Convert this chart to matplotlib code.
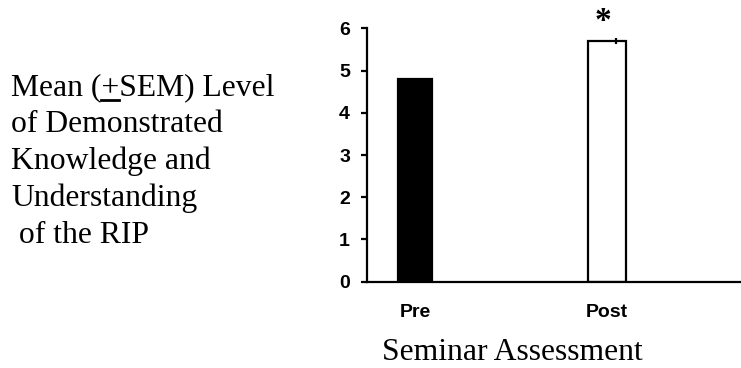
import matplotlib
matplotlib.use("Agg")
import matplotlib.pyplot as plt
from matplotlib.lines import Line2D

# Data
categories = ["Pre", "Post"]
means = [4.8, 5.7]
sems = [0.0, 0.08]
bar_colors = ["black", "white"]
yticks = [0, 1, 2, 3, 4, 5, 6]
ylabel_lines = ["Mean (+SEM) Level", "of Demonstrated", "Knowledge and",
                "Understanding", " of the RIP"]
xlabel = "Seminar Assessment"
signif_mark = "*"

W, H = 741, 368
fig = plt.figure(figsize=(W / 100, H / 100), dpi=100)
ax_left, ax_bottom, ax_top = 366.7, 281.7, 28.3
ax = fig.add_axes([ax_left / W, 1 - ax_bottom / H, 1 - ax_left / W,
                   (ax_bottom - ax_top) / H])

x = list(range(len(categories)))
ax.bar(x, means, width=[0.18, 0.2], color=bar_colors, edgecolor="black",
       linewidth=1.6, zorder=2)
# SEM bars sit slightly right of the bar centre
ax.errorbar([xi + 0.047 for xi in x], means, yerr=sems, fmt="none",
            ecolor="black", elinewidth=1.6, capsize=0, zorder=3)

ax.set_xlim(-0.2516, 1.698)
ax.set_ylim(0, 6)
ax.set_yticks(yticks)
ax.set_xticks(x)
ax.set_xticklabels(categories)

for side in ("top", "right"):
    ax.spines[side].set_visible(False)
for side in ("left", "bottom"):
    ax.spines[side].set_linewidth(1.6)

for lab in ax.get_yticklabels() + ax.get_xticklabels():
    lab.set_fontfamily("Liberation Sans")
    lab.set_fontweight("bold")
    lab.set_fontsize(14)
ax.tick_params(axis="y", length=4, width=1.6, pad=8, direction="out")
ax.tick_params(axis="x", length=0, pad=16)

# Significance marker above the Post bar
ax.annotate(signif_mark, xy=(x[1], means[1]), xytext=(-3, 3),
            textcoords="offset points", ha="center", va="bottom",
            fontsize=24, fontfamily="Liberation Serif", fontweight="bold",
            annotation_clip=False)

serif = dict(fontfamily="Liberation Serif", fontsize=22.8)
baseline0, step = 95, 37
texts = []
for i, line in enumerate(ylabel_lines):
    t = fig.text(11 / W, 1 - (baseline0 + i * step) / H, line,
                 ha="left", va="baseline", **serif)
    texts.append(t)

fig.text(512 / W, 1 - 360 / H, xlabel, ha="center", va="baseline", **serif)

# Underline the "+" so it reads as plus/minus
fig.canvas.draw()
r = fig.canvas.get_renderer()
first = texts[0]
bb = first.get_window_extent(r)
probe_a = fig.text(0, 0, "Mean (", **serif)
probe_b = fig.text(0, 0, "Mean (+", **serif)
wa = probe_a.get_window_extent(r).width
wb = probe_b.get_window_extent(r).width
probe_a.remove()
probe_b.remove()
uy = (H - 100) / H
fig.add_artist(Line2D([(bb.x0 + wa) / W, (bb.x0 + wb) / W], [uy, uy],
                      transform=fig.transFigure, color="black", linewidth=2))

fig.savefig("out.png", dpi=100, facecolor="white")
